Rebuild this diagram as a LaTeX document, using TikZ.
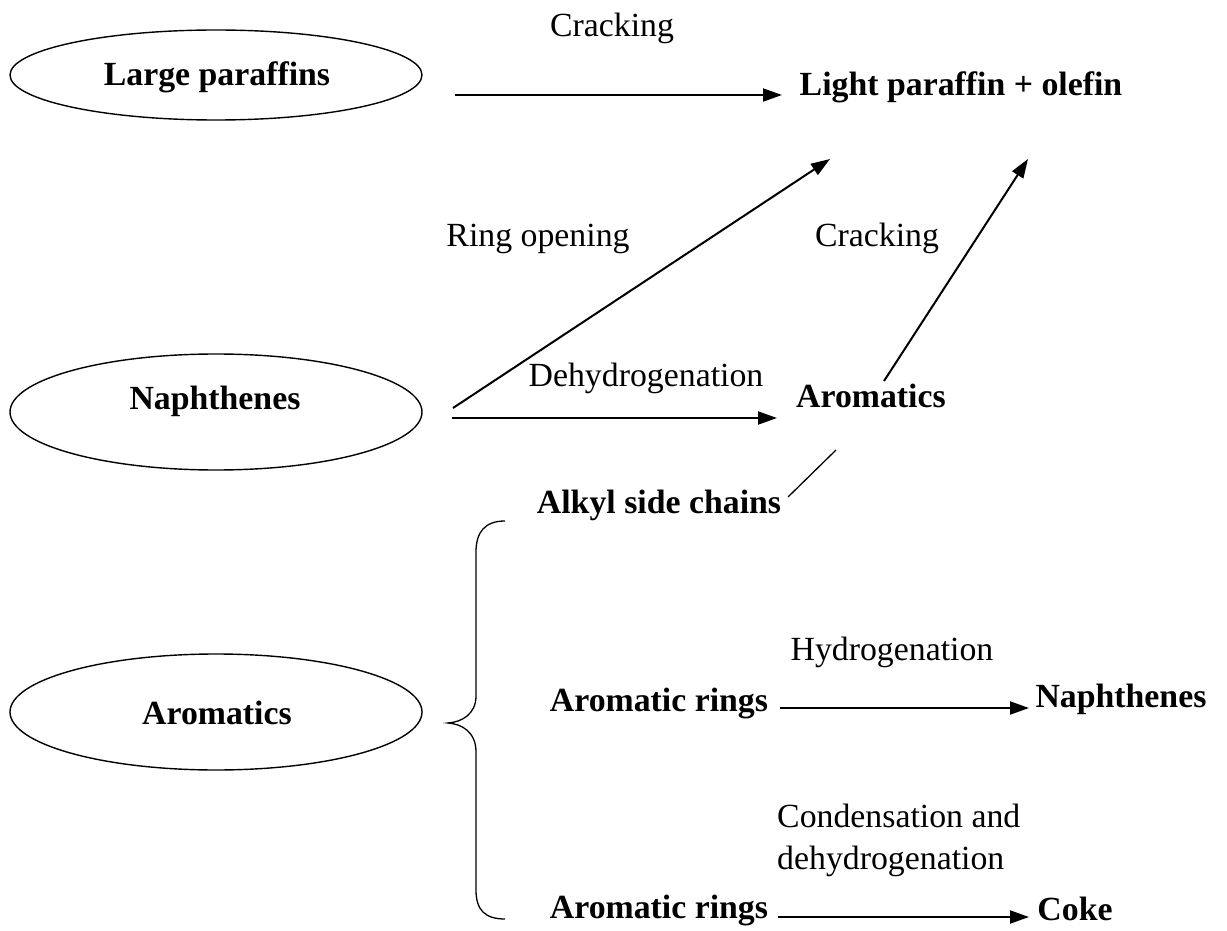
\documentclass[tikz,border=0pt]{standalone}
\usepackage{fontspec}
\setmainfont{Liberation Serif}
\usetikzlibrary{shapes.geometric,arrows.meta}
\begin{document}
\begin{tikzpicture}[x=1pt,y=-1pt,
  every node/.style={inner sep=0pt,font=\fontsize{33.8}{40}\selectfont},
  oval/.style={draw,ellipse,line width=1.4pt,minimum width=412pt},
  bold/.style={font=\fontsize{33.8}{40}\selectfont\bfseries},
  lbl/.style={},
  arr/.style={line width=2pt,-{Triangle[length=19pt,width=13pt]}},
  thin/.style={line width=1.3pt}]
\useasboundingbox (0,0) rectangle (1227,931);
% ellipses
\node[oval,minimum height=90pt] (e1) at (216,75) {};
\node[oval,minimum height=116pt] (e2) at (216,412) {};
\node[oval,minimum height=116pt] (e3) at (216,712) {};
\node[bold] (lp) at (217,77) {Large paraffins};
\node[bold] (na) at (215,401) {Naphthenes};
\node[bold] (ar) at (217,713) {Aromatics};
% right side texts
\node[bold] (lpo) at (961,87) {Light paraffin + olefin};
\node[bold] (ar2) at (871,396) {Aromatics};
\node[bold] (alk) at (659,505) {Alkyl side chains};
\node[bold] (rg1) at (659,703) {Aromatic rings};
\node[bold] (na2) at (1121,699) {Naphthenes};
\node[bold] (rg2) at (659,910) {Aromatic rings};
\node[bold] (coke) at (1075,909) {Coke};
% reaction labels
\node[lbl] (l1) at (612,28) {Cracking};
\node[lbl] (l2) at (538,239) {Ring opening};
\node[lbl] (l3) at (877,238) {Cracking};
\node[lbl] (l4) at (646,378) {Dehydrogenation};
\node[lbl] (l5) at (892,652) {Hydrogenation};
\node[lbl,align=left,anchor=west,font=\fontsize{33.8}{42}\selectfont] (l6) at (777,840) {Condensation and\\dehydrogenation};
% arrow endpoints
\coordinate (a1s) at (455,95);
\coordinate (a1e) at (782,95);
\coordinate (a2s) at (453,408);
\coordinate (a2e) at (830,159);
\coordinate (a3s) at (452,418);
\coordinate (a3e) at (777,418);
\coordinate (a4s) at (884,381);
\coordinate (a4e) at (1028,159);
\coordinate (a5s) at (780,708);
\coordinate (a5e) at (1029,708);
\coordinate (a6s) at (778,917);
\coordinate (a6e) at (1029,917);
\coordinate (ls) at (788,497);
\coordinate (le) at (836,450);
\draw[arr] (a1s) -- (a1e);
\draw[arr] (a2s) -- (a2e);
\draw[arr] (a3s) -- (a3e);
\draw[arr] (a4s) -- (a4e);
\draw[arr] (a5s) -- (a5e);
\draw[arr] (a6s) -- (a6e);
\draw[thin] (ls) -- (le);
% brace
\coordinate (bt) at (505,521);
\coordinate (bm) at (448,723);
\coordinate (bb) at (505,919);
\draw[thin] (bt) .. controls (485,521) and (476,532) .. (476,552)
  -- (476,696) .. controls (476,714) and (462,722) .. (bm)
  .. controls (462,724) and (476,732) .. (476,752)
  -- (476,890) .. controls (476,910) and (485,919) .. (bb);
\end{tikzpicture}
\end{document}
